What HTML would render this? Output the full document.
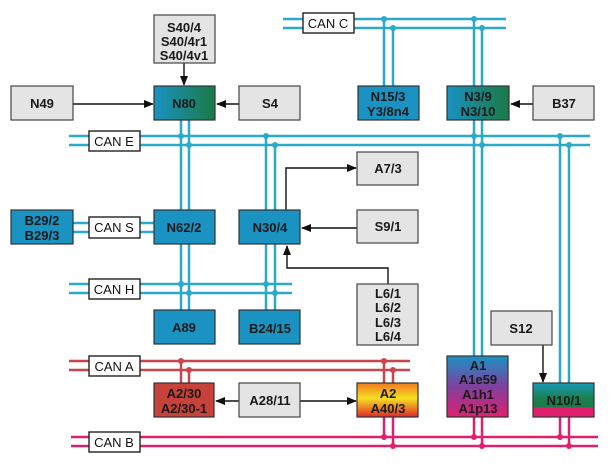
<!DOCTYPE html>
<html><head><meta charset="utf-8"><style>
body{margin:0;background:#fff}
svg{display:block}
text{font-family:"Liberation Sans",sans-serif;font-weight:bold;font-size:13px;text-anchor:middle;fill:#1a1a1a}
.lbl{font-weight:normal;font-size:13px;fill:#111}
.c{stroke:#2aa9c9;stroke-width:2.5;fill:none}
.r{stroke:#c8454e;stroke-width:2.5;fill:none}
.p{stroke:#e0206e;stroke-width:2.5;fill:none}
.g{fill:#e4e4e4;stroke:#444;stroke-width:1.2}
.b{fill:#1a92c2;stroke:#333;stroke-width:1.2}
.a{stroke:#111;stroke-width:1.4;fill:none}
</style></head><body>
<svg width="615" height="470" viewBox="0 0 615 470" xmlns="http://www.w3.org/2000/svg">
<defs>
<linearGradient id="bg" x1="0" x2="1" y1="0" y2="0"><stop offset="0" stop-color="#1a92c2"/><stop offset="1" stop-color="#1a7a45"/></linearGradient>
<linearGradient id="og" x1="0" x2="0" y1="0" y2="1"><stop offset="0" stop-color="#f07a20"/><stop offset="0.45" stop-color="#f8e020"/><stop offset="1" stop-color="#e02828"/></linearGradient>
<linearGradient id="mg" x1="0" x2="0" y1="0" y2="1"><stop offset="0" stop-color="#1a92c2"/><stop offset="0.5" stop-color="#8040a0"/><stop offset="1" stop-color="#e0206e"/></linearGradient>
<linearGradient id="ng" x1="0" x2="0" y1="0" y2="1"><stop offset="0" stop-color="#1a9ab8"/><stop offset="0.45" stop-color="#1a8050"/><stop offset="0.7" stop-color="#1a7a45"/><stop offset="0.72" stop-color="#e0206e"/><stop offset="1" stop-color="#e0206e"/></linearGradient>
<marker id="ar" markerWidth="10" markerHeight="8" refX="9" refY="4" orient="auto" markerUnits="userSpaceOnUse"><path d="M0,0 L10,4 L0,8 z" fill="#111"/></marker>
</defs>

<!-- bus lines -->
<path class="c" d="M283 19H506M283 28H506"/>
<path class="c" d="M69 136H590M69 145H590"/>
<path class="c" d="M73 223H154M73 232H154"/>
<path class="c" d="M69 284H292M69 293H292"/>
<path class="r" d="M69 361H410M69 370H410"/>
<path class="p" d="M71 437H598M71 446H598"/>

<!-- verticals -->
<path class="c" d="M181 120V210M189 120V210M181 244V310M189 244V310"/>
<path class="c" d="M266 136V210M275 145V210M266 244V310M275 244V310"/>
<path class="c" d="M384 19V86M393 28V86"/>
<path class="c" d="M474 19V86M482 28V86M474 120V356M482 120V356"/>
<path class="c" d="M560 136V383M569 145V383"/>
<path class="r" d="M181 361V383M189 370V383M384 361V383M393 370V383"/>
<path class="p" d="M384 417V437M393 417V446M474 417V437M482 417V446M560 417V437M569 417V446"/>

<!-- dots -->
<g fill="#2aa9c9">
<circle cx="384" cy="19" r="3"/><circle cx="393" cy="28" r="3"/><circle cx="474" cy="19" r="3"/><circle cx="482" cy="28" r="3"/>
<circle cx="181" cy="136" r="3"/><circle cx="189" cy="145" r="3"/><circle cx="266" cy="136" r="3"/><circle cx="275" cy="145" r="3"/>
<circle cx="474" cy="136" r="3"/><circle cx="482" cy="145" r="3"/><circle cx="560" cy="136" r="3"/><circle cx="569" cy="145" r="3"/>
<circle cx="181" cy="284" r="3"/><circle cx="189" cy="293" r="3"/><circle cx="266" cy="284" r="3"/><circle cx="275" cy="293" r="3"/>
</g>
<g fill="#c8454e"><circle cx="181" cy="361" r="3"/><circle cx="189" cy="370" r="3"/><circle cx="384" cy="361" r="3"/><circle cx="393" cy="370" r="3"/></g>
<g fill="#e0206e"><circle cx="384" cy="437" r="3"/><circle cx="393" cy="446" r="3"/><circle cx="474" cy="437" r="3"/><circle cx="482" cy="446" r="3"/><circle cx="560" cy="437" r="3"/><circle cx="569" cy="446" r="3"/></g>

<!-- bus labels -->
<g fill="#fff" stroke="#222" stroke-width="1.4">
<rect x="303" y="13" width="51" height="20"/>
<rect x="89" y="131" width="51" height="20"/>
<rect x="89" y="217" width="51" height="21"/>
<rect x="89" y="279" width="51" height="20"/>
<rect x="89" y="356" width="51" height="20"/>
<rect x="89" y="432" width="51" height="20"/>
</g>
<text class="lbl" x="328" y="28">CAN C</text>
<text class="lbl" x="114" y="146">CAN E</text>
<text class="lbl" x="114" y="232">CAN S</text>
<text class="lbl" x="114" y="294">CAN H</text>
<text class="lbl" x="114" y="371">CAN A</text>
<text class="lbl" x="114" y="447">CAN B</text>

<!-- arrows -->
<path class="a" d="M184 63V85" marker-end="url(#ar)"/>
<path class="a" d="M73 104H153" marker-end="url(#ar)"/>
<path class="a" d="M239 104H217" marker-end="url(#ar)"/>
<path class="a" d="M533 104H511" marker-end="url(#ar)"/>
<path class="a" d="M286 210V168H356" marker-end="url(#ar)"/>
<path class="a" d="M357 228H302" marker-end="url(#ar)"/>
<path class="a" d="M388 284V268H287V246" marker-end="url(#ar)"/>
<path class="a" d="M239 401H216" marker-end="url(#ar)"/>
<path class="a" d="M300 401H356" marker-end="url(#ar)"/>
<path class="a" d="M543 345V382" marker-end="url(#ar)"/>

<!-- boxes -->
<rect class="g" x="154" y="15" width="61" height="48"/>
<text x="184" y="32">S40/4</text><text x="184" y="46">S40/4r1</text><text x="184" y="60">S40/4v1</text>
<rect class="g" x="11" y="86" width="62" height="34"/><text x="42" y="108">N49</text>
<rect x="154" y="86" width="61" height="34" fill="url(#bg)" stroke="#333" stroke-width="1.2"/><text x="184" y="108">N80</text>
<rect class="g" x="239" y="86" width="61" height="34"/><text x="270" y="108">S4</text>
<rect class="b" x="358" y="86" width="61" height="34"/><text x="388" y="101">N15/3</text><text x="388" y="116">Y3/8n4</text>
<rect x="447" y="86" width="62" height="34" fill="url(#bg)" stroke="#333" stroke-width="1.2"/><text x="478" y="101">N3/9</text><text x="478" y="116">N3/10</text>
<rect class="g" x="533" y="86" width="61" height="34"/><text x="564" y="108">B37</text>
<rect class="g" x="357" y="152" width="61" height="33"/><text x="388" y="173">A7/3</text>
<rect class="b" x="11" y="210" width="62" height="34"/><text x="42" y="225">B29/2</text><text x="42" y="240">B29/3</text>
<rect class="b" x="154" y="210" width="61" height="34"/><text x="184" y="232">N62/2</text>
<rect class="b" x="239" y="210" width="61" height="34"/><text x="270" y="232">N30/4</text>
<rect class="g" x="357" y="210" width="61" height="33"/><text x="388" y="231">S9/1</text>
<rect class="g" x="357" y="284" width="61" height="61"/>
<text x="388" y="298">L6/1</text><text x="388" y="312">L6/2</text><text x="388" y="327">L6/3</text><text x="388" y="341">L6/4</text>
<rect class="b" x="154" y="310" width="61" height="34"/><text x="184" y="332">A89</text>
<rect class="b" x="239" y="310" width="61" height="34"/><text x="270" y="333">B24/15</text>
<rect class="g" x="491" y="311" width="61" height="34"/><text x="521" y="333">S12</text>
<rect x="154" y="383" width="60" height="34" fill="#c8423c" stroke="#333" stroke-width="1.2"/><text x="184" y="398">A2/30</text><text x="184" y="413">A2/30-1</text>
<rect class="g" x="239" y="383" width="61" height="34"/><text x="270" y="405">A28/11</text>
<rect x="357" y="383" width="61" height="34" fill="url(#og)" stroke="#333" stroke-width="1.2"/><text x="388" y="398">A2</text><text x="388" y="413">A40/3</text>
<rect x="447" y="356" width="61" height="61" fill="url(#mg)" stroke="#333" stroke-width="1.2"/>
<text x="478" y="370">A1</text><text x="478" y="384">A1e59</text><text x="478" y="399">A1h1</text><text x="478" y="413">A1p13</text>
<rect x="533" y="383" width="61" height="34" fill="url(#ng)" stroke="#333" stroke-width="1.2"/><text x="564" y="405">N10/1</text>
</svg>
</body></html>
